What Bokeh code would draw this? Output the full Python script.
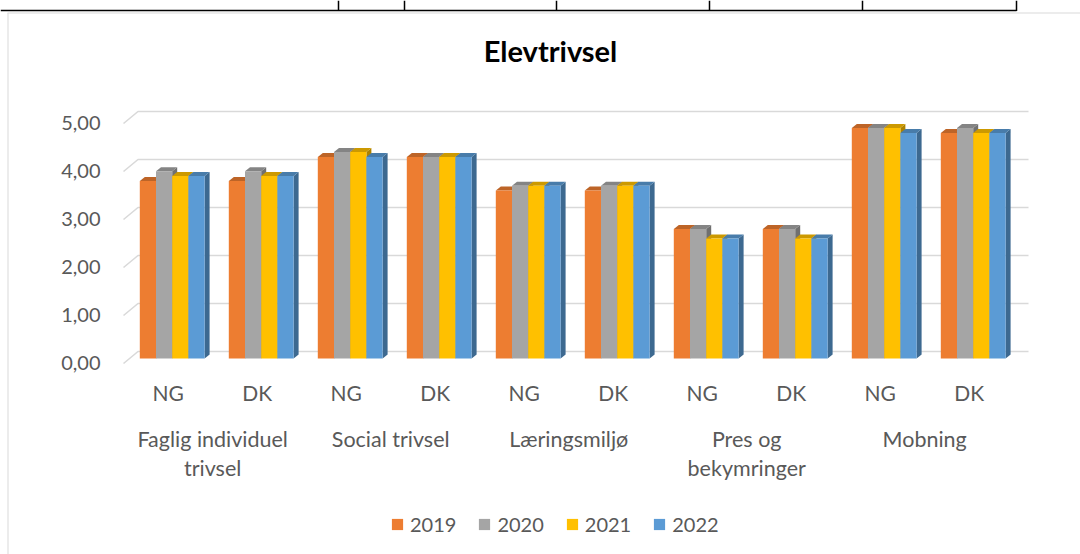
from bokeh.plotting import figure
from bokeh.models import Range1d, Legend, LegendItem
from bokeh.core.properties import value
from bokeh.embed import file_html
from bokeh.resources import INLINE

# ---------------- data ----------------
title_text = "Elevtrivsel"
categories = ["Faglig individuel\ntrivsel", "Social trivsel", "Læringsmiljø",
              "Pres og\nbekymringer", "Mobning"]
subgroups = ["NG", "DK"]
years = ["2019", "2020", "2021", "2022"]
v2019 = [3.7, 3.7, 4.2, 4.2, 3.5, 3.5, 2.7, 2.7, 4.8, 4.7]
v2020 = [3.9, 3.9, 4.3, 4.2, 3.6, 3.6, 2.7, 2.7, 4.8, 4.8]
v2021 = [3.8, 3.8, 4.3, 4.2, 3.6, 3.6, 2.5, 2.5, 4.8, 4.7]
v2022 = [3.8, 3.8, 4.2, 4.2, 3.6, 3.6, 2.5, 2.5, 4.7, 4.7]
y_ticks = [0, 1, 2, 3, 4, 5]
y_tick_labels = ["0,00", "1,00", "2,00", "3,00", "4,00", "5,00"]
colors = ["#ED7D31", "#A5A5A5", "#FFC000", "#5B9BD5"]

series = [v2019, v2020, v2021, v2022]

# ---------------- layout ----------------
W, H = 1080, 554
X0, SX = 171.7, 89.0      # page x of first sub-group, px per sub-group
Y0, SY = 358.0, 48.0      # page y of value 0, px per unit


def xp(page_x):
    return (page_x - X0) / SX


def yp(page_y):
    return (Y0 - page_y) / SY


def shade(hexc, f):
    r, g, b = (int(hexc[i:i + 2], 16) for i in (1, 3, 5))
    return "#%02x%02x%02x" % (int(r * f), int(g * f), int(b * f))


FONT = value("Lato")
TXT = "#595959"

p = figure(width=W, height=H, output_backend="svg", toolbar_location=None,
           x_range=Range1d(xp(0), xp(W)), y_range=Range1d(yp(H), yp(0)),
           x_axis_location=None, y_axis_location=None, min_border=0)
p.outline_line_color = None
p.grid.visible = False
p.background_fill_color = "white"
p.border_fill_color = "white"

# table fragment at top and chart border
p.segment(x0=[xp(0)], y0=[yp(10)], x1=[xp(1016)], y1=[yp(10)], line_color="black", line_width=1.5)
tcols = [338, 404, 556, 709, 862, 1016]
p.segment(x0=[xp(c) for c in tcols], y0=[yp(0)] * len(tcols),
          x1=[xp(c) for c in tcols], y1=[yp(10.5)] * len(tcols), line_color="black", line_width=1.5)
p.segment(x0=[xp(7)], y0=[yp(12.5)], x1=[xp(1080)], y1=[yp(12.5)], line_color="#D9D9D9", line_width=1)
p.segment(x0=[xp(7.5)], y0=[yp(12.5)], x1=[xp(7.5)], y1=[yp(554)], line_color="#D9D9D9", line_width=1)

# gridlines (3D back wall with floor diagonal)
front_off = 5 / SY
back_off = 7 / SY
gx = [[xp(123), xp(137.5), xp(1028)] for _ in y_ticks]
gy = [[v - front_off, v + back_off, v + back_off] for v in y_ticks]
p.multi_line(xs=gx, ys=gy, line_color="#D9D9D9", line_width=1.6)

# y tick labels
p.text(x=[xp(100)] * len(y_ticks), y=[v - 4.7 / SY for v in y_ticks], text=y_tick_labels,
       text_align="right", text_baseline="alphabetic", text_font=FONT,
       text_font_size="20px", text_color=TXT)

# 3D bars
BW = 16.2 / SX
DX = 5 / SX
DY = 4 / SY
n = len(v2019)
renderers = []
for j, (vals, col) in enumerate(zip(series, colors)):
    cx = [i + (j - 1.5) * BW for i in range(n)]
    sxs, sys_, txs, tys = [], [], [], []
    for c, v in zip(cx, vals):
        l, r = c - BW / 2, c + BW / 2
        sxs.append([r, r + DX, r + DX, r])
        sys_.append([0, DY, v + DY, v])
        txs.append([l, l + DX, r + DX, r])
        tys.append([v, v + DY, v + DY, v])
    p.patches(xs=sxs, ys=sys_, fill_color=shade(col, 0.68), line_color=None)
    p.patches(xs=txs, ys=tys, fill_color=shade(col, 0.8), line_color=None)
    rr = p.vbar(x=cx, top=vals, bottom=0, width=BW, fill_color=col, line_color=None)
    renderers.append(rr)

# x labels
sub_text = [subgroups[i % 2] for i in range(n)]
p.text(x=[i - 4 / SX for i in range(n)], y=[yp(392)] * n, text=sub_text,
       text_align="center", text_baseline="alphabetic", text_font=FONT,
       text_font_size="21px", text_color=TXT)
lx, ly, lt = [], [], []
for k, name in enumerate(categories):
    for li, line in enumerate(name.split("\n")):
        lx.append(2 * k + 0.5 - 4 / SX)
        ly.append(yp(438 + 29 * li))
        lt.append(line)
p.text(x=lx, y=ly, text=lt, text_align="center", text_baseline="alphabetic",
       text_font=FONT, text_font_size="21.5px", text_color=TXT)

# title
p.text(x=[xp(550)], y=[yp(49.5)], text=[title_text], text_align="center",
       text_baseline="alphabetic", text_font=FONT, text_font_size="29px",
       text_font_style="bold", text_color="black")

legend = Legend(items=[LegendItem(label=y, renderers=[r]) for y, r in zip(years, renderers)],
                orientation="horizontal", location=(390, 18), glyph_width=14, glyph_height=14,
                label_standoff=6, spacing=21, padding=0, margin=0,
                border_line_color=None, background_fill_alpha=0,
                label_text_font="Lato", label_text_font_size="20px", label_text_color=TXT)
p.add_layout(legend)

open("out.html", "w").write(file_html(p, INLINE))
